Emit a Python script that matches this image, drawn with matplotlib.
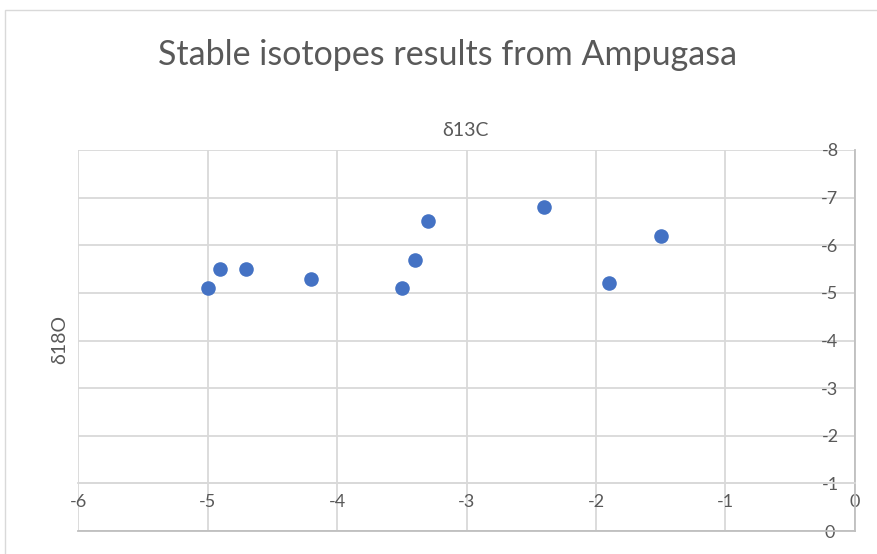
import matplotlib
matplotlib.use("Agg")
import matplotlib.pyplot as plt
from matplotlib.patches import Rectangle

plt.rcParams['font.family'] = ['Lato', 'DejaVu Sans']

# isotope measurements, one point per sample
d13c = [-5.0, -4.9, -4.7, -4.2, -3.5, -3.4, -3.3, -2.4, -1.9, -1.5]
d18o = [-5.1, -5.5, -5.5, -5.3, -5.1, -5.7, -6.5, -6.8, -5.2, -6.2]

x_ticks = [-6, -5, -4, -3, -2, -1, 0]
y_ticks = [0, -1, -2, -3, -4, -5, -6, -7, -8]

text_color = '#595959'
grid_color = '#d9d9d9'
axis_color = '#bfbfbf'

fig = plt.figure(figsize=(8.78, 5.54), dpi=100)
fig.patches.append(Rectangle((5 / 878, -0.1), 1.0, 1.1 - 10 / 554, transform=fig.transFigure,
                             fill=False, edgecolor=grid_color, linewidth=1.0))

ax = fig.add_axes([78 / 878, 1 - 531 / 554, (855 - 78) / 878, (531 - 150) / 554])
ax.scatter(d13c, d18o, s=110, color='#4472C4', zorder=3, linewidths=0)

ax.set_xlim(-6, 0)
ax.set_ylim(0, -8)
ax.set_xticks(x_ticks)
ax.set_yticks(y_ticks)
ax.set_xticklabels([str(v) for v in x_ticks])
ax.set_yticklabels([str(v) for v in y_ticks])

ax.grid(True, color=grid_color, linewidth=1.3, zorder=0)
ax.set_axisbelow(True)

# horizontal axis crosses at -1, vertical axis sits at 0
ax.spines['bottom'].set_position(('data', -1))
ax.spines['bottom'].set_color(grid_color)
ax.spines['bottom'].set_linewidth(1.3)
ax.spines['left'].set_position(('data', 0))
ax.spines['left'].set_color(axis_color)
ax.spines['left'].set_linewidth(1.3)
ax.spines['top'].set_visible(False)
ax.spines['right'].set_visible(False)
ax.axhline(0, color=axis_color, linewidth=1.3, zorder=1, clip_on=False)

ax.tick_params(axis='both', length=0, labelsize=13, labelcolor=text_color)
ax.tick_params(axis='x', pad=8)
ax.tick_params(axis='y', pad=18)
for lbl in ax.get_yticklabels():
    lbl.set_horizontalalignment('center')
    lbl.set_zorder(4)

fig.text(448 / 878, 1 - 55 / 554, 'Stable isotopes results from Ampugasa',
         ha='center', va='center', fontsize=24.5, color=text_color)
fig.text(465 / 878, 1 - 130 / 554, 'δ13C', ha='center', va='center',
         fontsize=14, color=text_color)
fig.text(60 / 878, 1 - 340 / 554, 'δ18O', ha='center', va='center',
         fontsize=14, color=text_color, rotation=90)

fig.savefig('out.png', dpi=100)
